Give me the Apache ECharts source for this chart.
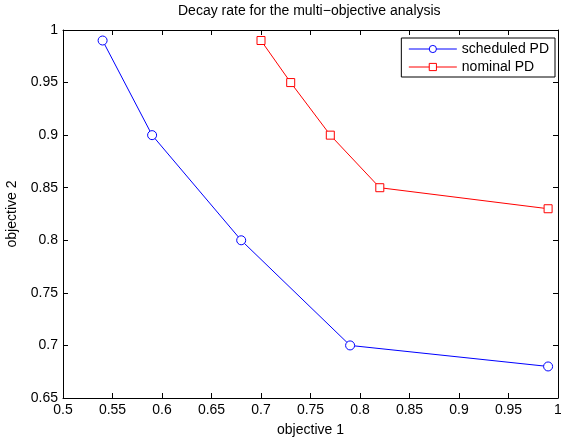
<!DOCTYPE html>
<html>
<head>
<meta charset="utf-8">
<script src="https://cdn.jsdelivr.net/npm/echarts@6/dist/echarts.min.js"></script>
<style>
html, body { margin: 0; padding: 0; background: #fff; }
#main { width: 561px; height: 437px; }
</style>
</head>
<body>
<div id="main"></div>
<script>
// objective values
var scheduledX = [0.54, 0.59, 0.68, 0.79, 0.99];
var scheduledY = [0.99, 0.90, 0.80, 0.70, 0.68];
var nominalX = [0.70, 0.73, 0.77, 0.82, 0.99];
var nominalY = [0.99, 0.95, 0.90, 0.85, 0.83];

function pairs(xs, ys) {
	var out = [];
	for (var i = 0; i < xs.length; i++) {
		out.push([xs[i], ys[i]]);
	}
	return out;
}

var myChart = echarts.init(document.getElementById('main'));
var font = 'Liberation Sans, Arial, sans-serif';

function fmt(v) {
	return String(Math.round(v * 100) / 100);
}

var option = {
	animation : false,
	backgroundColor : '#fff',
	title : {
		text : 'Decay rate for the multi\u2212objective analysis',
		left : 178,
		top : 4,
		padding : 0,
		textStyle : {
			fontFamily : font,
			fontSize : 14,
			fontWeight : 'normal',
			color : '#000'
		}
	},
	legend : {
		data : [ 'scheduled PD', 'nominal PD' ],
		orient : 'vertical',
		right : 6,
		top : 38,
		itemWidth : 48,
		itemHeight : 9,
		itemGap : 4,
		padding : [ 4, 6, 3, 7 ],
		borderColor : '#000',
		borderWidth : 1,
		borderRadius : 0,
		backgroundColor : '#fff',
		lineStyle : { width : 1 },
		itemStyle : { borderWidth : 1 },
		textStyle : {
			fontFamily : font,
			fontSize : 14,
			color : '#000'
		}
	},
	grid : {
		left : 63,
		right : 3,
		top : 30,
		bottom : 39,
		outerBoundsMode : 'none',
		containLabel : false
	},
	xAxis : [ {
		type : 'value',
		min : 0.5,
		max : 1,
		interval : 0.05,
		name : 'objective 1',
		nameLocation : 'middle',
		nameGap : 25,
		nameTextStyle : { fontFamily : font, fontSize : 14, color : '#000' },
		axisLine : { lineStyle : { color : '#000', width : 1 } },
		axisTick : { inside : true, length : 5, lineStyle : { color : '#000' } },
		axisLabel : { fontFamily : font, fontSize : 14, color : '#000', margin : 5, formatter : fmt },
		splitLine : { show : false }
	}, {
		type : 'value',
		position : 'top',
		min : 0.5,
		max : 1,
		interval : 0.05,
		axisLine : { lineStyle : { color : '#000', width : 1 } },
		axisTick : { inside : true, length : 5, lineStyle : { color : '#000' } },
		axisLabel : { show : false },
		splitLine : { show : false }
	} ],
	yAxis : [ {
		type : 'value',
		min : 0.65,
		max : 1,
		interval : 0.05,
		name : 'objective 2',
		nameLocation : 'middle',
		nameGap : 44,
		nameTextStyle : { fontFamily : font, fontSize : 14, color : '#000' },
		axisLine : { lineStyle : { color : '#000', width : 1 } },
		axisTick : { inside : true, length : 5, lineStyle : { color : '#000' } },
		axisLabel : { fontFamily : font, fontSize : 14, color : '#000', margin : 5, formatter : fmt },
		splitLine : { show : false }
	}, {
		type : 'value',
		position : 'right',
		min : 0.65,
		max : 1,
		interval : 0.05,
		axisLine : { lineStyle : { color : '#000', width : 1 } },
		axisTick : { inside : true, length : 5, lineStyle : { color : '#000' } },
		axisLabel : { show : false },
		splitLine : { show : false }
	} ],
	series : [ {
		name : 'scheduled PD',
		type : 'line',
		data : pairs(scheduledX, scheduledY),
		symbol : 'circle',
		symbolSize : 9,
		lineStyle : { color : '#0000ff', width : 1 },
		itemStyle : { color : '#fff', borderColor : '#0000ff', borderWidth : 1 }
	}, {
		name : 'nominal PD',
		type : 'line',
		data : pairs(nominalX, nominalY),
		symbol : 'rect',
		symbolSize : 8,
		lineStyle : { color : '#ff0000', width : 1 },
		itemStyle : { color : '#fff', borderColor : '#ff0000', borderWidth : 1 }
	} ]
};
myChart.setOption(option);
</script>
</body>
</html>
